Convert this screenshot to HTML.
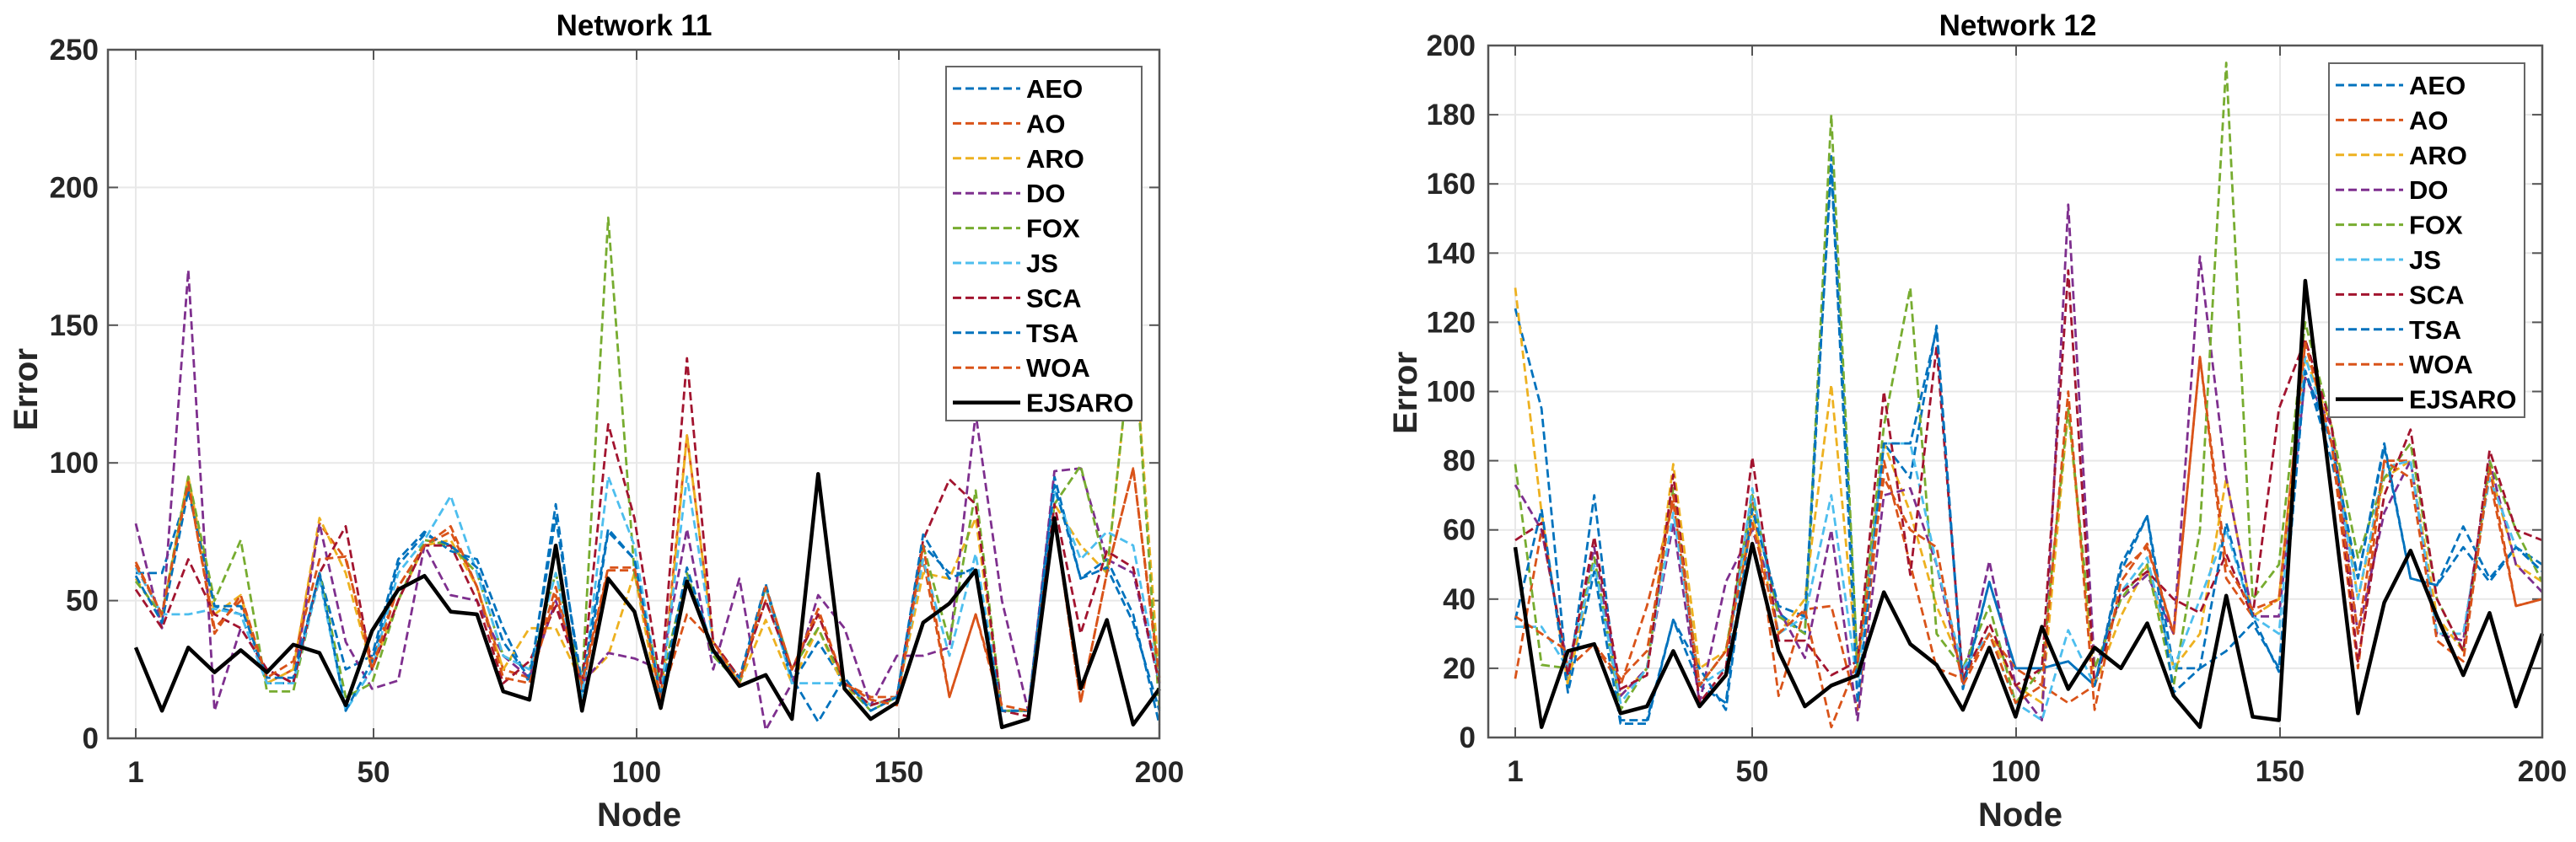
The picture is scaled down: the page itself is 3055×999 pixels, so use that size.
<!DOCTYPE html>
<html><head><meta charset="utf-8"><style>
html,body{margin:0;padding:0;background:#fff;}
svg{display:block;font-family:"Liberation Sans",Arial,sans-serif;font-weight:bold;}
</style></head>
<body>
<svg id="fig" width="3055" height="999" viewBox="0 0 3055 999" xmlns="http://www.w3.org/2000/svg"></svg>
<script>
const seriesNames = ["AEO","AO","ARO","DO","FOX","JS","SCA","TSA","WOA","EJSARO"];
const seriesColors = ["#0072BD","#D95319","#EDB120","#7E2F8E","#77AC30","#4DBEEE","#A2142F","#0072BD","#D95319","#000000"];
const xTickLabels = ["1","50","100","150","200"];
const xTickNodes = [1,50,100,150,200];

// Network 11 values (40 sample points each)
const n11_AEO = [60,60,90,48,45,20,20,60,25,30,65,75,68,65,40,20,85,15,75,65,15,60,30,20,55,20,35,20,12,15,70,60,60,10,10,95,58,65,45,5];
const n11_AO = [64,45,92,40,50,20,25,78,65,28,55,70,75,55,25,22,55,18,61,61,15,110,35,22,50,25,45,20,15,15,65,15,45,10,10,80,13,60,98,20];
const n11_ARO = [58,44,95,45,52,20,25,80,60,25,50,70,72,55,25,40,40,20,30,60,10,110,35,20,43,20,40,18,12,15,60,58,80,10,10,85,70,60,150,20];
const n11_DO = [78,40,170,10,40,25,20,78,35,18,21,70,52,50,30,22,50,20,31,29,25,76,25,58,3,20,52,40,12,30,30,33,118,50,10,97,98,65,60,20];
const n11_FOX = [57,45,95,50,72,17,17,60,15,20,50,72,70,60,30,25,60,20,189,60,20,60,30,20,55,25,40,20,10,15,70,35,90,10,10,85,99,60,150,10];
const n11_JS = [62,45,45,47,45,20,20,58,10,25,60,72,88,60,30,25,60,15,95,70,15,95,35,20,55,20,20,20,12,15,65,30,67,10,10,90,65,75,70,20];
const n11_SCA = [54,40,65,45,40,25,20,60,77,25,50,70,70,50,20,28,48,20,114,80,20,138,35,22,50,25,45,20,12,15,72,94,85,10,8,85,38,68,62,20];
const n11_TSA = [59,42,90,48,48,22,22,60,10,28,63,74,70,62,35,22,80,20,76,65,15,62,32,22,56,22,6,22,10,15,74,58,62,10,10,92,58,62,42,10];
const n11_WOA = [63,45,93,38,52,22,28,65,66,25,55,70,77,55,22,20,52,20,62,62,14,45,35,20,55,25,47,20,14,12,70,15,45,12,10,80,13,60,98,22];
const n11_EJSARO = [33,10,33,24,32,24,34,31,12,39,54,59,46,45,17,14,70,10,58,46,11,57,32,19,23,7,96,18,7,13,42,49,61,4,7,80,18,43,5,18];

// Network 12 values
const n12_AEO = [124,95,15,70,5,5,34,15,10,70,36,30,168,20,85,75,119,15,45,20,20,22,15,50,64,20,20,25,33,20,106,80,46,85,46,44,61,46,55,50];
const n12_AO = [17,60,20,27,15,38,68,15,25,70,12,37,38,8,80,50,20,17,30,20,15,10,15,48,55,30,110,46,35,40,115,85,20,80,80,30,30,75,38,40];
const n12_ARO = [130,65,15,52,12,20,79,20,25,65,30,40,102,20,85,65,38,20,30,15,10,95,15,35,50,20,30,75,35,40,110,90,40,75,80,35,25,78,50,45];
const n12_DO = [73,60,20,55,12,20,62,10,45,60,37,23,60,5,70,72,50,16,51,15,5,154,20,40,47,30,139,75,35,35,104,90,30,65,80,30,28,80,50,42];
const n12_FOX = [79,21,20,52,8,20,72,15,25,70,35,30,180,20,90,130,30,20,38,10,20,95,20,40,50,15,60,195,40,50,120,90,52,75,85,40,25,80,60,45];
const n12_JS = [32,32,20,50,10,20,65,15,20,72,30,35,70,15,85,85,50,20,30,10,5,31,15,42,52,20,40,60,35,30,110,85,40,78,80,30,30,75,55,48];
const n12_SCA = [57,62,18,58,14,18,76,10,20,81,28,28,18,22,100,47,113,17,33,15,20,135,15,42,48,40,36,53,35,95,115,90,22,70,89,40,25,83,60,57];
const n12_TSA = [34,66,13,48,4,4,34,20,8,66,38,35,165,10,85,85,118,14,45,20,20,22,15,48,64,13,20,62,35,19,106,85,46,84,46,44,55,45,55,48];
const n12_WOA = [35,30,25,27,17,25,70,15,25,62,30,37,3,22,75,60,55,15,30,10,15,100,8,45,56,30,110,50,37,40,114,85,30,80,75,28,22,78,38,40];
const n12_EJSARO = [55,3,25,27,7,9,25,9,18,56,25,9,15,18,42,27,21,8,26,6,32,14,26,20,33,12,3,41,6,5,132,70,7,39,54,35,18,36,9,30];

const n11 = [n11_AEO,n11_AO,n11_ARO,n11_DO,n11_FOX,n11_JS,n11_SCA,n11_TSA,n11_WOA,n11_EJSARO];
const n12 = [n12_AEO,n12_AO,n12_ARO,n12_DO,n12_FOX,n12_JS,n12_SCA,n12_TSA,n12_WOA,n12_EJSARO];

const NS = "http://www.w3.org/2000/svg";
const svg = document.getElementById("fig");
function mk(tag, attrs, parent){
  const e = document.createElementNS(NS, tag);
  for (const k in attrs) e.setAttribute(k, attrs[k]);
  (parent||svg).appendChild(e);
  return e;
}

function drawChart(cfg, data){
  const g = mk("g", {});
  
  
  const yPx = v => cfg.bottom - v * (cfg.bottom - cfg.top) / cfg.ymax;
  const n = data[0].length;
  const idxX = i => cfg.x1 + i * (cfg.x200 - cfg.x1) / (n - 1);
  for (let v = 0; v <= cfg.ymax; v += cfg.ystep){
    const y = yPx(v);
    const gl = mk("line", {x1:cfg.left, x2:cfg.right, y1:y, y2:y, stroke:"#e8e8e8", "stroke-width":2}, g);
    
    
    mk("line", {x1:cfg.left, x2:cfg.left+12, y1:y, y2:y, stroke:"#555", "stroke-width":2}, g);
    mk("line", {x1:cfg.right, x2:cfg.right-12, y1:y, y2:y, stroke:"#555", "stroke-width":2}, g);
    const t = mk("text", {x:cfg.ylabRight, y:y+12, "text-anchor":"end", "font-size":35, fill:"#262626"}, g);
    t.textContent = v;
    
    
  }
  xTickNodes.forEach((nd, i) => {
    const x = cfg.xticks[i];
    const gl = mk("line", {x1:x, x2:x, y1:cfg.top, y2:cfg.bottom, stroke:"#e8e8e8", "stroke-width":2}, g);
    
    
    mk("line", {x1:x, x2:x, y1:cfg.bottom, y2:cfg.bottom-12, stroke:"#555", "stroke-width":2}, g);
    mk("line", {x1:x, x2:x, y1:cfg.top, y2:cfg.top+12, stroke:"#555", "stroke-width":2}, g);
    const t = mk("text", {x:x, y:cfg.bottom+52, "text-anchor":"middle", "font-size":35, fill:"#262626"}, g);
    t.textContent = xTickLabels[i];
    
    
  });
  data.forEach((vals, s) => {
    const pts = vals.map((v, i) => idxX(i).toFixed(1) + "," + yPx(v).toFixed(1)).join(" ");
    const isMain = s === data.length - 1;
    const pl = mk("polyline", {points:pts, fill:"none", stroke:seriesColors[s],
      "stroke-width": isMain ? 4.5 : 2.8, "stroke-linejoin":"round",
      "stroke-dasharray": isMain ? "none" : "10,5"}, g);
    
    
  });
  const box = mk("rect", {x:cfg.left, y:cfg.top, width:cfg.right-cfg.left, height:cfg.bottom-cfg.top, fill:"none", stroke:"#555", "stroke-width":2.5}, g);
  
  
  const tt = mk("text", {x:cfg.titleX, y:42, "text-anchor":"middle", "font-size":35, fill:"#000"}, g);
  tt.textContent = cfg.title;
  
  
  const xl = mk("text", {x:(cfg.x1+cfg.x200)/2 - 10, y:980, "text-anchor":"middle", "font-size":40, fill:"#262626"}, g);
  xl.textContent = "Node";
  
  
  const yl = mk("text", {x:0, y:0, "text-anchor":"middle", "font-size":40, fill:"#262626",
    transform:"translate(" + cfg.errX + "," + cfg.errY + ") rotate(-90)"}, g);
  yl.textContent = "Error";
  
  
  const lg = mk("g", {}, g);
  
  
  mk("rect", {x:cfg.legX, y:cfg.legY, width:232, height:420, fill:"#fff", stroke:"#666", "stroke-width":2}, lg);
  seriesNames.forEach((nm, s) => {
    const y = cfg.legY + 26 + s * 41.4;
    const isMain = s === seriesNames.length - 1;
    const ln = mk("line", {x1:cfg.legX+8, x2:cfg.legX+88, y1:y, y2:y, stroke:seriesColors[s],
      "stroke-width": isMain ? 4.5 : 3, "stroke-dasharray": isMain ? "none" : "10,5"}, lg);
    
    
    const t = mk("text", {x:cfg.legX+95, y:y+11, "font-size":31, fill:"#000"}, lg);
    t.textContent = nm;
    
    
  });
}

drawChart({name:"network-11-chart", title:"Network 11", left:128, right:1375, top:59, bottom:876,
  x1:161, x200:1375, xticks:[161,443,755,1066,1375], ymax:250, ystep:50, ylabRight:117,
  titleX:752, errX:44, errY:462, legX:1122, legY:79}, n11);
drawChart({name:"network-12-chart", title:"Network 12", left:1765, right:3015, top:54, bottom:875,
  x1:1797, x200:3015, xticks:[1797,2078,2391,2704,3015], ymax:200, ystep:20, ylabRight:1750,
  titleX:2393, errX:1680, errY:466, legX:2762, legY:75}, n12);
</script>
</body></html>
